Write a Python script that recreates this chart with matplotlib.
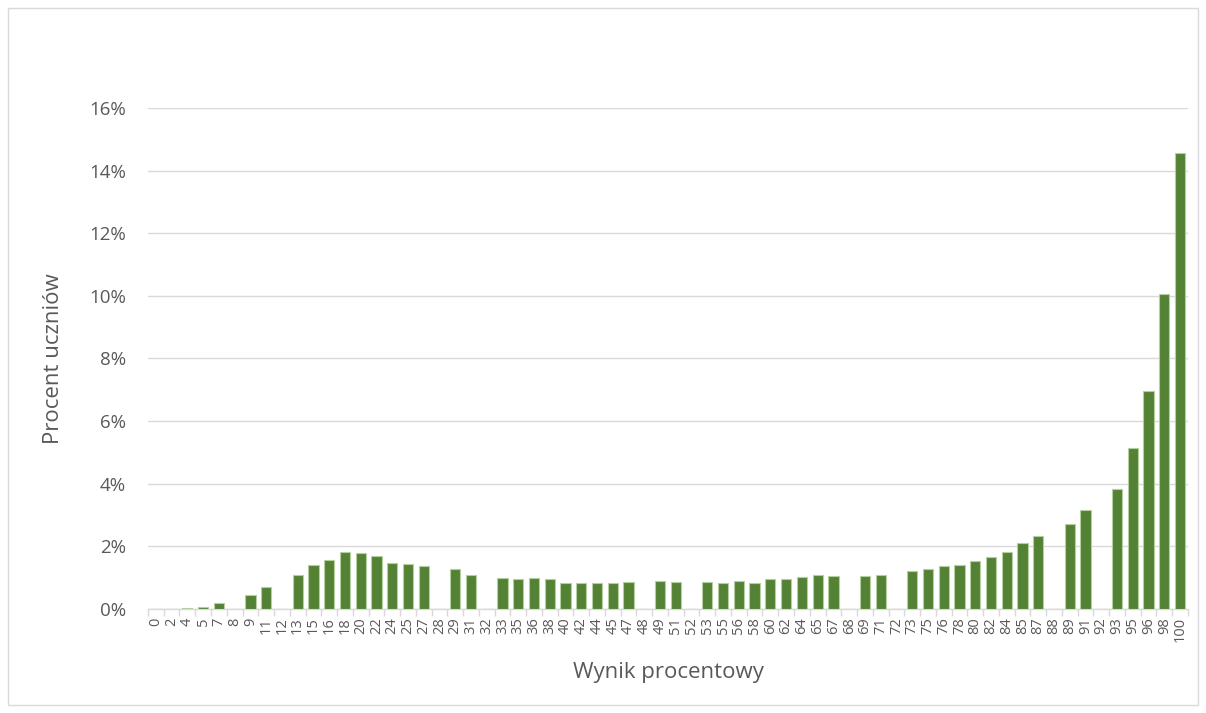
import matplotlib.pyplot as plt
from matplotlib.patches import Rectangle
from matplotlib.ticker import FuncFormatter
import numpy as np

plt.rcParams['font.family'] = ['Open Sans', 'DejaVu Sans']

# Wynik procentowy (kategorie) i procent uczniów
wyniki = ['0', '2', '4', '5', '7', '8', '9', '11', '12', '13', '15', '16', '18',
          '20', '22', '24', '25', '27', '28', '29', '31', '32', '33', '35', '36',
          '38', '40', '42', '44', '45', '47', '48', '49', '51', '52', '53', '55',
          '56', '58', '60', '62', '64', '65', '67', '68', '69', '71', '72', '73',
          '75', '76', '78', '80', '82', '84', '85', '87', '88', '89', '91', '92',
          '93', '95', '96', '98', '100']
procent = [0.0, 0.0, 0.03, 0.07, 0.19, 0.0, 0.43, 0.69, 0.0, 1.07, 1.40, 1.57, 1.82,
           1.77, 1.69, 1.48, 1.44, 1.36, 0.0, 1.26, 1.08, 0.0, 0.98, 0.97, 0.98,
           0.94, 0.84, 0.82, 0.83, 0.84, 0.85, 0.0, 0.90, 0.85, 0.0, 0.86, 0.82,
           0.89, 0.84, 0.96, 0.96, 1.03, 1.08, 1.04, 0.0, 1.06, 1.08, 0.0, 1.22,
           1.26, 1.37, 1.40, 1.52, 1.66, 1.82, 2.09, 2.33, 0.0, 2.72, 3.16, 0.0,
           3.83, 5.15, 6.96, 10.05, 14.55]

fig = plt.figure(figsize=(12.06, 7.13), dpi=100)
ax = fig.add_axes([0.1227, 0.146, 0.8623, 0.7025])

x = np.arange(len(wyniki))
ax.bar(x, procent, width=0.65, color='#548235', edgecolor='#b5cfa0', linewidth=0.8, zorder=3)

ax.set_xlim(-0.5, len(wyniki) - 0.5)
ax.set_ylim(0, 16)
ax.set_yticks(np.arange(0, 17, 2))
ax.yaxis.set_major_formatter(FuncFormatter(lambda v, p: '%d%%' % v))
ax.grid(axis='y', color='#d9d9d9', linewidth=1, zorder=0)

ax.set_xticks(x)
ax.set_xticklabels(wyniki, rotation=90, fontsize=10.5, color='#595959')
ax.set_xticks(np.arange(-0.5, len(wyniki), 1), minor=True)
ax.tick_params(axis='x', which='major', length=0, pad=6)
ax.tick_params(axis='x', which='minor', length=5, color='#d9d9d9', width=1)
ax.tick_params(axis='y', length=0, labelsize=13.5, labelcolor='#595959', pad=16)

for s in ['top', 'right', 'left']:
    ax.spines[s].set_visible(False)
ax.spines['bottom'].set_color('#d9d9d9')
ax.spines['bottom'].set_linewidth(1)

ax.set_xlabel('Wynik procentowy', fontsize=16, color='#595959', labelpad=14)
ax.set_ylabel('Procent uczniów', fontsize=16, color='#595959', labelpad=18)

fig.patches.append(Rectangle((0.007, 0.011), 0.986, 0.978, transform=fig.transFigure,
                             fill=False, edgecolor='#d9d9d9', linewidth=1))

fig.savefig('out.png', dpi=100)
